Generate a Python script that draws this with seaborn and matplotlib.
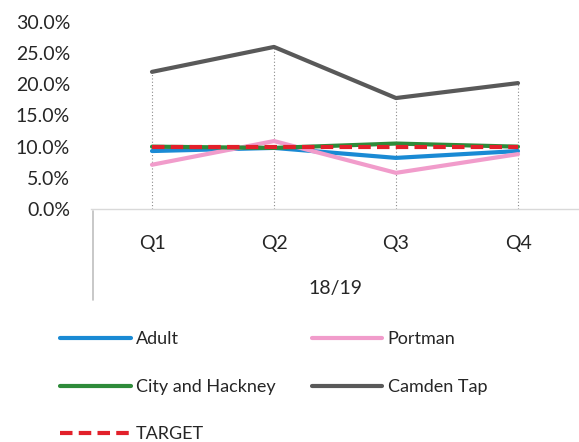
import matplotlib
matplotlib.use("Agg")
import matplotlib.pyplot as plt
import matplotlib.lines as mlines
import seaborn as sns
import pandas as pd
from matplotlib.ticker import PercentFormatter

# values
quarters = ["Q1", "Q2", "Q3", "Q4"]
adult = [0.093, 0.098, 0.082, 0.093]
portman = [0.071, 0.109, 0.058, 0.088]
city_hackney = [0.100, 0.098, 0.105, 0.100]
camden_tap = [0.220, 0.260, 0.178, 0.202]
target = [0.10, 0.10, 0.10, 0.10]

df = pd.DataFrame({
    "quarter": quarters,
    "Adult": adult,
    "Portman": portman,
    "City and Hackney": city_hackney,
    "Camden Tap": camden_tap,
    "TARGET": target,
})

sns.set_style("white")
plt.rcParams["font.family"] = ["Lato", "DejaVu Sans"]

fig = plt.figure(figsize=(5.79, 4.42), dpi=100)
ax = fig.add_axes([91 / 579, 1 - 209 / 442, 488 / 579, 187 / 442])

# dotted drop lines
peak = df[["Adult", "Portman", "City and Hackney", "Camden Tap"]].max(axis=1)
ax.vlines(range(len(quarters)), 0, peak, color="#8a8a8a", lw=0.8, ls=(0, (1, 2)))

sns.lineplot(x="quarter", y="Camden Tap", data=df, color="#595959", lw=3, ax=ax)
sns.lineplot(x="quarter", y="Adult", data=df, color="#1a8ad4", lw=3, ax=ax)
sns.lineplot(x="quarter", y="Portman", data=df, color="#f19ccb", lw=3, ax=ax)
sns.lineplot(x="quarter", y="City and Hackney", data=df, color="#2e8b3a", lw=3, ax=ax)
sns.lineplot(x="quarter", y="TARGET", data=df, color="#e2202a", lw=3, ls=(0, (3, 1.5)), ax=ax)

ax.set_xlim(-0.5, 3.5)
ax.set_ylim(0, 0.30)
ax.set_yticks([0, 0.05, 0.10, 0.15, 0.20, 0.25, 0.30])
ax.yaxis.set_major_formatter(PercentFormatter(1.0, decimals=1))
ax.set_xlabel("18/19", fontsize=14, color="#262626", labelpad=20)
ax.set_ylabel("")
ax.tick_params(axis="both", labelsize=14, colors="#262626", length=0)
ax.tick_params(axis="x", pad=19)
ax.tick_params(axis="y", pad=15)
for side in ["top", "right", "left"]:
    ax.spines[side].set_visible(False)
ax.spines["bottom"].set_color("#d9d9d9")
ax.spines["bottom"].set_linewidth(1)

# separator of the category axis
fig.add_artist(mlines.Line2D([93 / 579, 93 / 579], [1 - 211 / 442, 1 - 300 / 442],
                             color="#bfbfbf", lw=1.2, transform=fig.transFigure))

handles = [
    mlines.Line2D([], [], color="#1a8ad4", lw=3, label="Adult"),
    mlines.Line2D([], [], color="#2e8b3a", lw=3, label="City and Hackney"),
    mlines.Line2D([], [], color="#e2202a", lw=3, ls=(0, (3, 1.5)), label="TARGET"),
    mlines.Line2D([], [], color="#f19ccb", lw=3, label="Portman"),
    mlines.Line2D([], [], color="#595959", lw=3, label="Camden Tap"),
]
fig.legend(handles=handles, ncol=2, loc="upper left", bbox_to_anchor=(44 / 579, 1 - 315 / 442),
           frameon=False, fontsize=13, handlelength=3.9, labelspacing=1.75,
           columnspacing=2.0, handletextpad=0.3, labelcolor="#262626")

fig.savefig("out.png", dpi=100)
